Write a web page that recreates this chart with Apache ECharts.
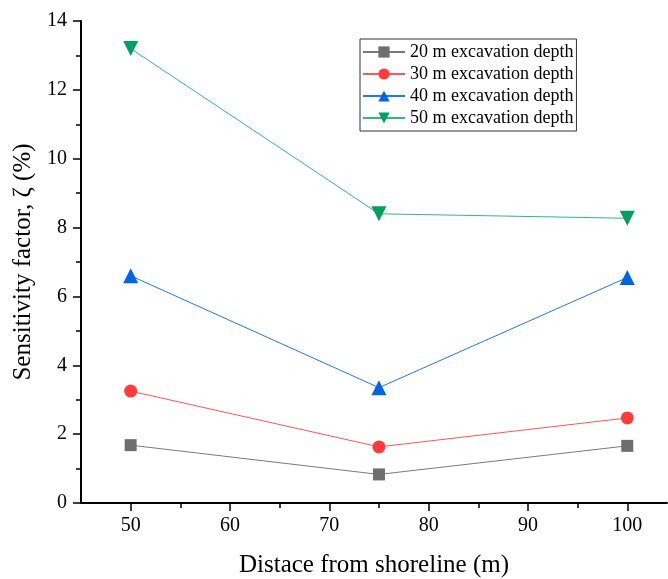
<!DOCTYPE html>
<html>
<head>
<meta charset="utf-8">
<script src="https://cdn.jsdelivr.net/npm/echarts@6/dist/echarts.min.js"></script>
<style>
html,body{margin:0;padding:0;background:#fff}
#chart{width:668px;height:579px}
</style>
</head>
<body>
<div id="chart"></div>
<script>
const distances=[50,75,100];
const depth20=[1.68,0.83,1.66];
const depth30=[3.25,1.63,2.47];
const depth40=[6.6,3.35,6.55];
const depth50=[13.2,8.4,8.27];
const names=["20 m excavation depth","30 m excavation depth","40 m excavation depth","50 m excavation depth"];
const xMajor=[50,60,70,80,90,100];
const xMinor=[55,65,75,85,95];

const font="Liberation Serif";
const chart=echarts.init(document.querySelector("#chart"));

const pts=v=>distances.map((d,i)=>[d,v[i]]);
const mk=(name,vals,sym,size,symColor,lineColor,rot)=>({
  name,type:"line",data:pts(vals),symbol:sym,symbolSize:size,symbolRotate:rot||0,
  itemStyle:{color:symColor},lineStyle:{color:lineColor,width:1},
  emphasis:{disabled:true},z:3
});

chart.setOption({
  animation:false,
  grid:{left:81,top:21,right:1,bottom:76,outerBoundsMode:"none"},
  legend:{
    left:360,top:39,orient:"vertical",
    padding:[4,3,4,2],itemGap:4,itemWidth:42,itemHeight:14,
    borderColor:"#333",borderWidth:1,
    textStyle:{fontFamily:font,fontSize:18,color:"#000"},
    data:names
  },
  xAxis:[{
    type:"value",min:45,max:104,
    name:"Distace from shoreline (m)",nameLocation:"middle",nameGap:50,
    nameTextStyle:{fontFamily:font,fontSize:25,color:"#000"},
    axisLine:{lineStyle:{color:"#000",width:2}},
    axisTick:{customValues:xMajor,length:8,lineStyle:{color:"#000",width:1.5}},
    axisLabel:{customValues:xMajor,fontFamily:font,fontSize:20,color:"#000",margin:13},
    splitLine:{show:false}
  },{
    type:"value",min:45,max:104,position:"bottom",
    axisLine:{show:false},
    axisTick:{customValues:xMinor,length:5,lineStyle:{color:"#000",width:1.5}},
    axisLabel:{show:false},
    splitLine:{show:false}
  }],
  yAxis:{
    type:"value",min:0,max:14,interval:2,
    name:"Sensitivity factor, ζ (%)",nameLocation:"middle",nameGap:43,
    nameTextStyle:{fontFamily:font,fontSize:25,color:"#000"},
    axisLine:{show:true,lineStyle:{color:"#000",width:2}},
    axisTick:{show:true,length:8,lineStyle:{color:"#000",width:1.5}},
    minorTick:{show:true,splitNumber:2,length:5,lineStyle:{color:"#000",width:1.5}},
    axisLabel:{fontFamily:font,fontSize:20,color:"#000",margin:14},
    splitLine:{show:false}
  },
  series:[
    mk(names[0],depth20,"rect",12,"#6e6e6e","#7a7a7a"),
    mk(names[1],depth30,"circle",13,"#ff3b3b","#ff5555"),
    mk(names[2],depth40,"triangle",15,"#0064e6","#1e78f0"),
    mk(names[3],depth50,"triangle",15,"#00a060","#30b880",180)
  ]
});
</script>
</body>
</html>
